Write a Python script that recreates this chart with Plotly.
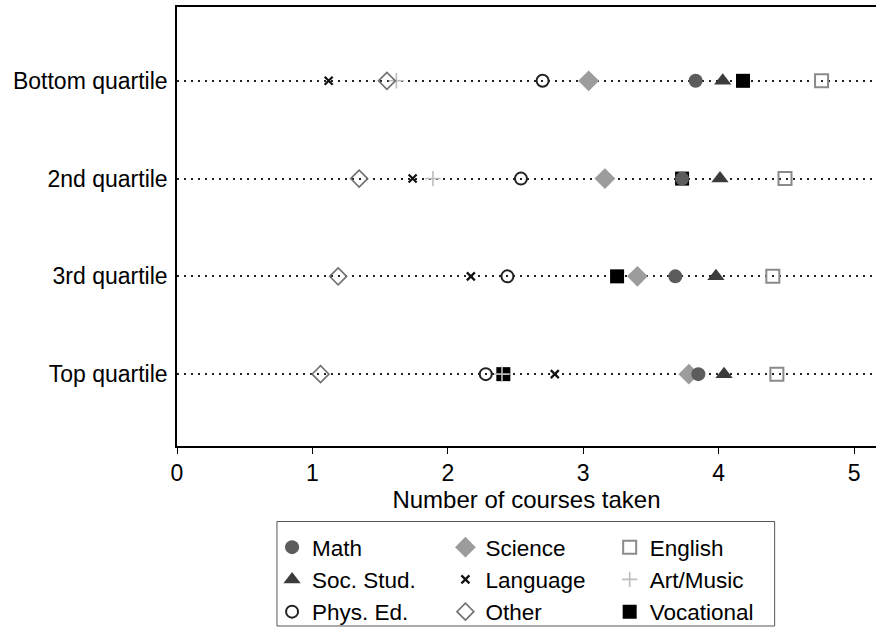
import plotly.graph_objects as go

quartiles = ["Bottom quartile", "2nd quartile", "3rd quartile", "Top quartile"]
quartile_pos = [4, 3, 2, 1]

math = [3.83, 3.73, 3.68, 3.85]
soc_stud = [4.03, 4.01, 3.98, 4.04]
phys_ed = [2.70, 2.54, 2.44, 2.28]
science = [3.04, 3.16, 3.40, 3.78]
language = [1.12, 1.74, 2.17, 2.79]
other = [1.55, 1.345, 1.19, 1.06]
english = [4.76, 4.49, 4.40, 4.43]
art_music = [1.62, 1.89, 3.40, 2.40]
vocational = [4.18, 3.73, 3.25, 2.41]

x_ticks = [0, 1, 2, 3, 4, 5]

# (name, values, symbol, size, fill, line color, line width, legend, rank) in drawing order
series = [
    ("Vocational", vocational, "square", 14, "#000000", "#000000", 0, "legend3", 3),
    ("Art/Music", art_music, "cross-thin", 11, "#bdbdbd", "#bdbdbd", 1.6, "legend3", 2),
    ("Science", science, "diamond", 16, "#9c9c9c", "#9c9c9c", 0, "legend2", 1),
    ("Math", math, "circle", 14, "#5c5c5c", "#5c5c5c", 0, "legend", 1),
    ("Soc. Stud.", soc_stud, "triangle-up", 15, "#3c3c3c", "#3c3c3c", 0, "legend", 2),
    ("Phys. Ed.", phys_ed, "circle-open", 12, "#222222", "#222222", 2, "legend", 3),
    ("Language", language, "x-thin", 8, "#111111", "#111111", 2.2, "legend2", 2),
    ("Other", other, "diamond-open", 13, "#707070", "#707070", 1.6, "legend2", 3),
    ("English", english, "square-open", 13, "#8a8a8a", "#8a8a8a", 2, "legend3", 1),
]

fig = go.Figure()
for name, vals, sym, size, fill, lc, lw, leg, rank in series:
    fig.add_trace(go.Scatter(
        x=vals, y=quartile_pos, mode="markers", name=name,
        legend=leg, legendrank=rank,
        marker=dict(symbol=sym, size=size, color=fill,
                    line=dict(color=lc, width=lw)),
    ))

leg_common = dict(orientation="v", yanchor="top", xanchor="left", y=-0.183,
                  bgcolor="rgba(0,0,0,0)", borderwidth=0,
                  font=dict(size=22.5), itemsizing="trace", tracegroupgap=0)

fig.update_layout(
    width=876, height=633,
    margin=dict(l=177, r=0, t=7, b=185),
    paper_bgcolor="white", plot_bgcolor="white",
    font=dict(family="Liberation Sans, Arial, sans-serif", size=23, color="black"),
    showlegend=True,
    legend=dict(x=0.136, **leg_common),
    legend2=dict(x=0.384, **leg_common),
    legend3=dict(x=0.619, **leg_common),
    shapes=[dict(type="rect", xref="paper", yref="paper",
                 x0=0.143, x1=0.855, y0=-0.172, y1=-0.41,
                 line=dict(color="#555555", width=1), fillcolor="rgba(0,0,0,0)")],
)
fig.update_xaxes(
    range=[0, 5.162], tickvals=x_ticks, ticks="outside", ticklen=6,
    tickcolor="black", showline=True, linecolor="black", linewidth=1.5,
    mirror=True, showgrid=False, zeroline=False, tickfont=dict(size=23),
    title=dict(text="Number of courses taken", standoff=1, font=dict(size=24)),
)
fig.update_yaxes(
    range=[0.265, 4.755], tickvals=quartile_pos, ticktext=quartiles,
    ticks="", showline=True, linecolor="black", linewidth=1.5,
    showgrid=True, gridcolor="#222222", gridwidth=1.5, griddash="1.5px,5.5px",
    zeroline=False, ticklabelstandoff=3, tickfont=dict(size=23),
)

fig.write_html("out.html", config={"displayModeBar": False},
               post_script="document.body.style.margin='0';")
